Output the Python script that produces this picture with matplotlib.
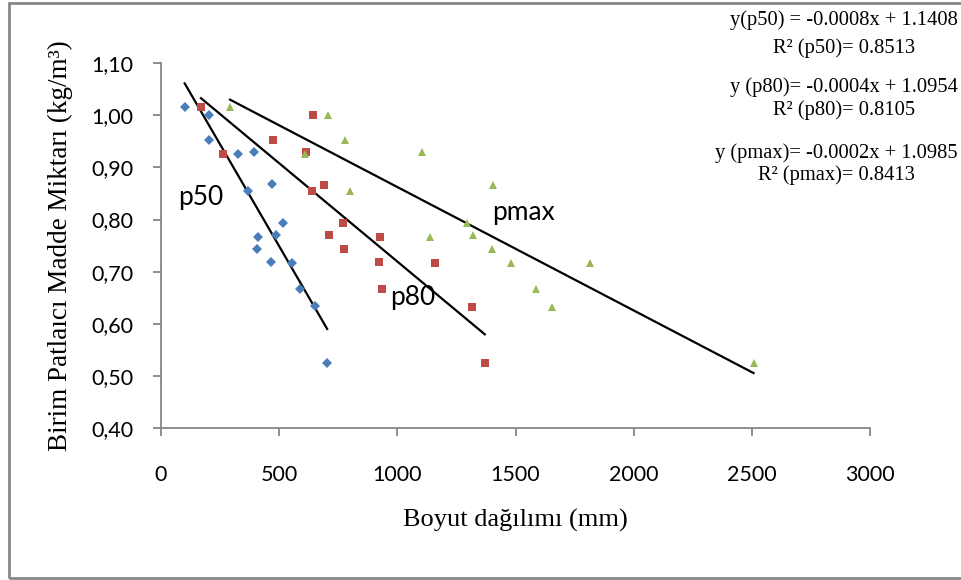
import numpy as np
import matplotlib
matplotlib.use("Agg")
import matplotlib.pyplot as plt
from matplotlib.patches import Rectangle
from matplotlib.ticker import FuncFormatter

# p50 (blue diamonds)
p50_x = [100, 205, 205, 325, 392, 368, 470, 514, 411, 487, 408, 466, 555, 587, 652, 703]
p50_y = [1.017, 1.000, 0.952, 0.926, 0.930, 0.855, 0.868, 0.793, 0.766, 0.771, 0.743, 0.718, 0.717, 0.667, 0.634, 0.524]

# p80 (red squares)
p80_x = [169, 642, 474, 264, 614, 691, 639, 770, 712, 773, 925, 922, 1160, 934, 1317, 1370]
p80_y = [1.017, 1.000, 0.952, 0.926, 0.930, 0.867, 0.855, 0.793, 0.771, 0.743, 0.766, 0.718, 0.716, 0.667, 0.633, 0.524]

# pmax (green triangles)
pmax_x = [292, 705, 779, 609, 1104, 798, 1406, 1295, 1322, 1138, 1399, 1480, 1587, 1815, 1656, 2507]
pmax_y = [1.017, 1.000, 0.952, 0.926, 0.930, 0.855, 0.867, 0.793, 0.771, 0.766, 0.743, 0.716, 0.667, 0.717, 0.633, 0.524]

equations = [
    "y(p50) = -0.0008x + 1.1408\nR\u00b2 (p50)= 0.8513",
    "y (p80)= -0.0004x + 1.0954\nR\u00b2 (p80)= 0.8105",
    "y (pmax)= -0.0002x + 1.0985\nR\u00b2 (pmax)= 0.8413",
]

series = [
    ("p50", p50_x, p50_y, "D", "#4a7ebb", 4.8),
    ("p80", p80_x, p80_y, "s", "#be4b48", 5.8),
    ("pmax", pmax_x, pmax_y, "^", "#98b954", 6.3),
]

fig = plt.figure(figsize=(9.62, 5.8), dpi=100)
ax = fig.add_axes([0.1674, 0.2621, 0.7370, 0.6288])

for name, xs, ys, marker, color, ms in series:
    ax.plot(xs, ys, linestyle="none", marker=marker, color=color,
            markersize=ms, markeredgewidth=0, zorder=3)
    # linear trendline across the data range, like Excel
    k, b = np.polyfit(xs, ys, 1)
    xl = np.array([min(xs), max(xs)])
    ax.plot(xl, k * xl + b, color="black", linewidth=1.6, zorder=2)

ax.set_xlim(0, 3000)
ax.set_ylim(0.40, 1.10)
ax.set_xticks(np.arange(0, 3001, 500))
ax.set_yticks(np.arange(0.40, 1.101, 0.10))
ax.yaxis.set_major_formatter(FuncFormatter(lambda v, p: f"{v:.2f}".replace(".", ",")))

for s in ["top", "right"]:
    ax.spines[s].set_visible(False)
for s in ["left", "bottom"]:
    ax.spines[s].set_color("#868686")
    ax.spines[s].set_linewidth(1.3)
ax.tick_params(axis="both", direction="out", length=6, width=1.3, color="#868686",
               labelsize=15.5, labelcolor="black")
ax.tick_params(axis="x", pad=21)
ax.tick_params(axis="y", pad=14)
for lab in ax.get_xticklabels() + ax.get_yticklabels():
    lab.set_family("Lato")

ax.set_xlabel("Boyut dağılımı (mm)", family="Liberation Serif", fontsize=19, labelpad=17)
ax.set_ylabel("Birim Patlaıcı Madde Miktarı (kg/m\u00b3)", family="Liberation Serif",
              fontsize=19.5, labelpad=13)

# series names next to the trendlines
ax.text(72, 0.843, "p50", family="Lato", fontsize=19, ha="left", va="center")
ax.text(969, 0.650, "p80", family="Lato", fontsize=19, ha="left", va="center")
ax.text(1401, 0.813, "pmax", family="Lato", fontsize=19, ha="left", va="center")

# equations top right: blocks right aligned, lines centred within each block
eq_y = [0.9416, 0.8300, 0.7170]
eq_spacing = [1.55, 1.22, 1.22]
for txt, yy, ls in zip(equations, eq_y, eq_spacing):
    fig.text(0.9958, yy, txt, family="Liberation Serif", fontsize=14.8,
             ha="right", va="center", multialignment="center", linespacing=ls)

fig.patches.append(Rectangle((0.009, 0.003), 1.2, 0.992, transform=fig.transFigure,
                             fill=False, edgecolor="#868686", linewidth=2))

fig.savefig("out.png", dpi=100)
